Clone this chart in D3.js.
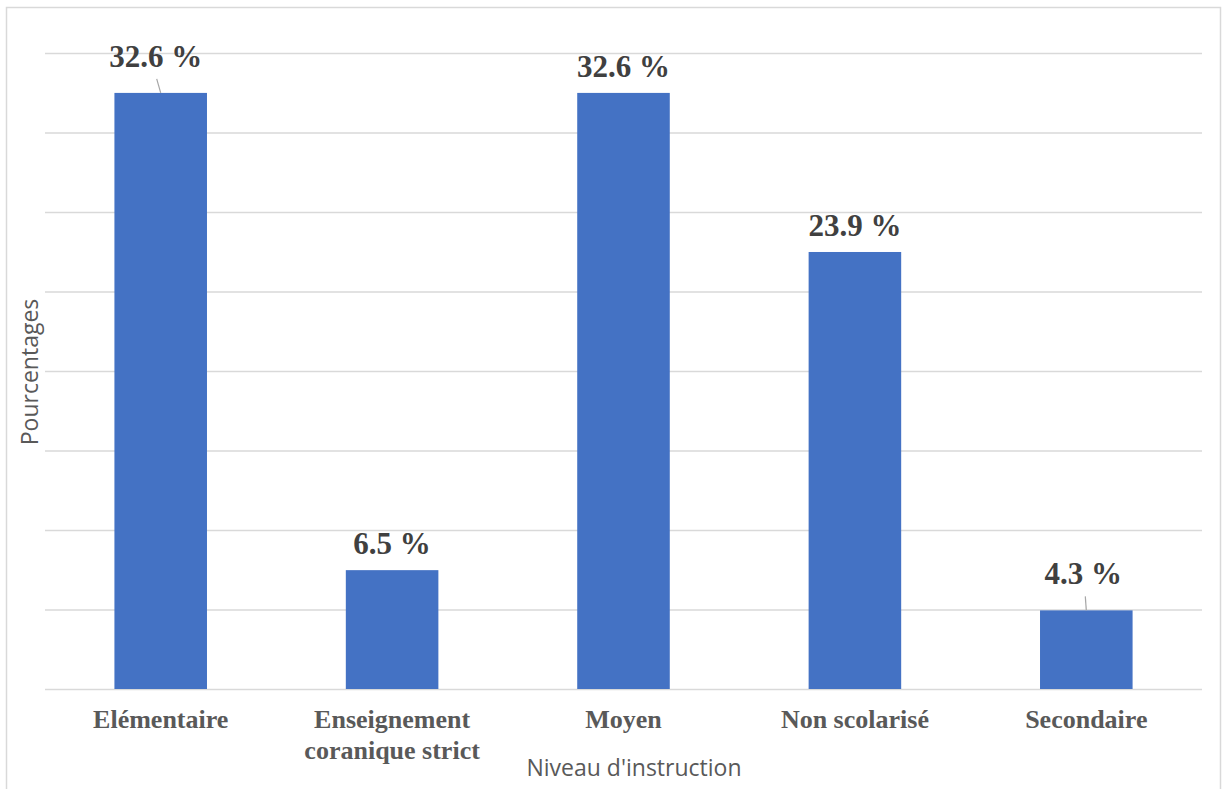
<!DOCTYPE html>
<html>
<head>
<meta charset="utf-8">
<script src="https://cdn.jsdelivr.net/npm/d3@7"></script>
<style>
  body { margin: 0; background: #fff; }
</style>
</head>
<body>
<div id="vis"></div>
<script>
// data
const CATEGORIES = ["Elémentaire", "Enseignement coranique strict", "Moyen", "Non scolarisé", "Secondaire"];
const CATEGORY_LINES = [["Elémentaire"], ["Enseignement", "coranique strict"], ["Moyen"], ["Non scolarisé"], ["Secondaire"]];
const PERCENTS = [32.6, 6.5, 32.6, 23.9, 4.3];
const VALUE_LABELS = ["32.6 %", "6.5 %", "32.6 %", "23.9 %", "4.3 %"];
// gridlines every 2 respondents out of 46
const Y_MAX = 16 / 46 * 100;
const GRID_STEP = 2 / 46 * 100;

// frame constants
const FRAME_WIDTH = 1223;
const FRAME_HEIGHT = 789;
const MARGINS = {left: 45, right: 21, top: 53, bottom: 100};
const VIS_WIDTH = FRAME_WIDTH - MARGINS.left - MARGINS.right;
const VIS_HEIGHT = FRAME_HEIGHT - MARGINS.top - MARGINS.bottom;

const FRAME = d3.select("#vis")
  .append("svg")
    .attr("width", FRAME_WIDTH)
    .attr("height", FRAME_HEIGHT);

// chart border
FRAME.append("rect")
  .attr("x", 6.5).attr("y", 7.5)
  .attr("width", 1214).attr("height", 800)
  .attr("fill", "none")
  .attr("stroke", "#d9d9d9")
  .attr("stroke-width", 1.5);

const X_SCALE = d3.scaleBand()
  .domain(CATEGORIES)
  .range([0, VIS_WIDTH])
  .paddingInner(0.6)
  .paddingOuter(0.3);

const Y_SCALE = d3.scaleLinear()
  .domain([0, Y_MAX])
  .range([VIS_HEIGHT, 0]);

const G = FRAME.append("g")
  .attr("transform", "translate(" + MARGINS.left + "," + MARGINS.top + ")");

// gridlines
const gridVals = d3.range(0, 9).map((i) => i * GRID_STEP);
G.append("g")
  .call(d3.axisLeft(Y_SCALE).tickValues(gridVals).tickSize(-VIS_WIDTH).tickFormat(""))
  .call((g) => g.select(".domain").remove())
  .call((g) => g.selectAll(".tick line").attr("stroke", "#d9d9d9").attr("stroke-width", 1.5));

// bars
G.selectAll(".bar")
  .data(PERCENTS)
  .enter()
  .append("rect")
    .attr("class", "bar")
    .attr("x", (d, i) => X_SCALE(CATEGORIES[i]))
    .attr("y", (d) => Y_SCALE(d))
    .attr("width", X_SCALE.bandwidth())
    .attr("height", (d) => VIS_HEIGHT - Y_SCALE(d))
    .attr("fill", "#4472c4");

// value labels: first and last are pushed up with a leader line
const LEADER = [0, 4];
const cx = (i) => X_SCALE(CATEGORIES[i]) + X_SCALE.bandwidth() / 2;

G.selectAll(".leader")
  .data(LEADER)
  .enter()
  .append("line")
    .attr("x1", (i) => cx(i) - (i === 0 ? 4 : 1))
    .attr("y1", (i) => Y_SCALE(PERCENTS[i]) - 14)
    .attr("x2", (i) => cx(i))
    .attr("y2", (i) => Y_SCALE(PERCENTS[i]))
    .attr("stroke", "#a6a6a6")
    .attr("stroke-width", 1.2);

G.selectAll(".vlabel")
  .data(PERCENTS)
  .enter()
  .append("text")
    .attr("x", (d, i) => cx(i) + (i === 0 ? -5 : (i === 4 ? -3 : 0)))
    .attr("y", (d, i) => Y_SCALE(d) - (LEADER.includes(i) ? 26 : 16))
    .attr("text-anchor", "middle")
    .attr("font-family", "'Liberation Serif', 'Times New Roman', serif")
    .attr("font-weight", "bold")
    .attr("font-size", "31px")
    .attr("fill", "#404040")
    .text((d, i) => VALUE_LABELS[i]);

// category labels
const catG = G.selectAll(".cat")
  .data(CATEGORY_LINES)
  .enter()
  .append("text")
    .attr("text-anchor", "middle")
    .attr("font-family", "'Liberation Serif', 'Times New Roman', serif")
    .attr("font-weight", "bold")
    .attr("font-size", "26px")
    .attr("fill", "#595959")
    .attr("transform", (d, i) => "translate(" + cx(i) + "," + (VIS_HEIGHT + 39) + ")");

catG.selectAll("tspan")
  .data((d) => d)
  .enter()
  .append("tspan")
    .attr("x", 0)
    .attr("dy", (d, j) => j === 0 ? 0 : 31)
    .text((d) => d);

// axis titles
FRAME.append("text")
  .attr("x", 634)
  .attr("y", 776)
  .attr("text-anchor", "middle")
  .attr("font-family", "'Open Sans', sans-serif")
  .attr("font-size", "23px")
  .attr("fill", "#595959")
  .text("Niveau d'instruction");

FRAME.append("text")
  .attr("transform", "translate(38," + 372 + ") rotate(-90)")
  .attr("text-anchor", "middle")
  .attr("font-family", "'Open Sans', sans-serif")
  .attr("font-size", "23px")
  .attr("fill", "#595959")
  .text("Pourcentages");
</script>
</body>
</html>
